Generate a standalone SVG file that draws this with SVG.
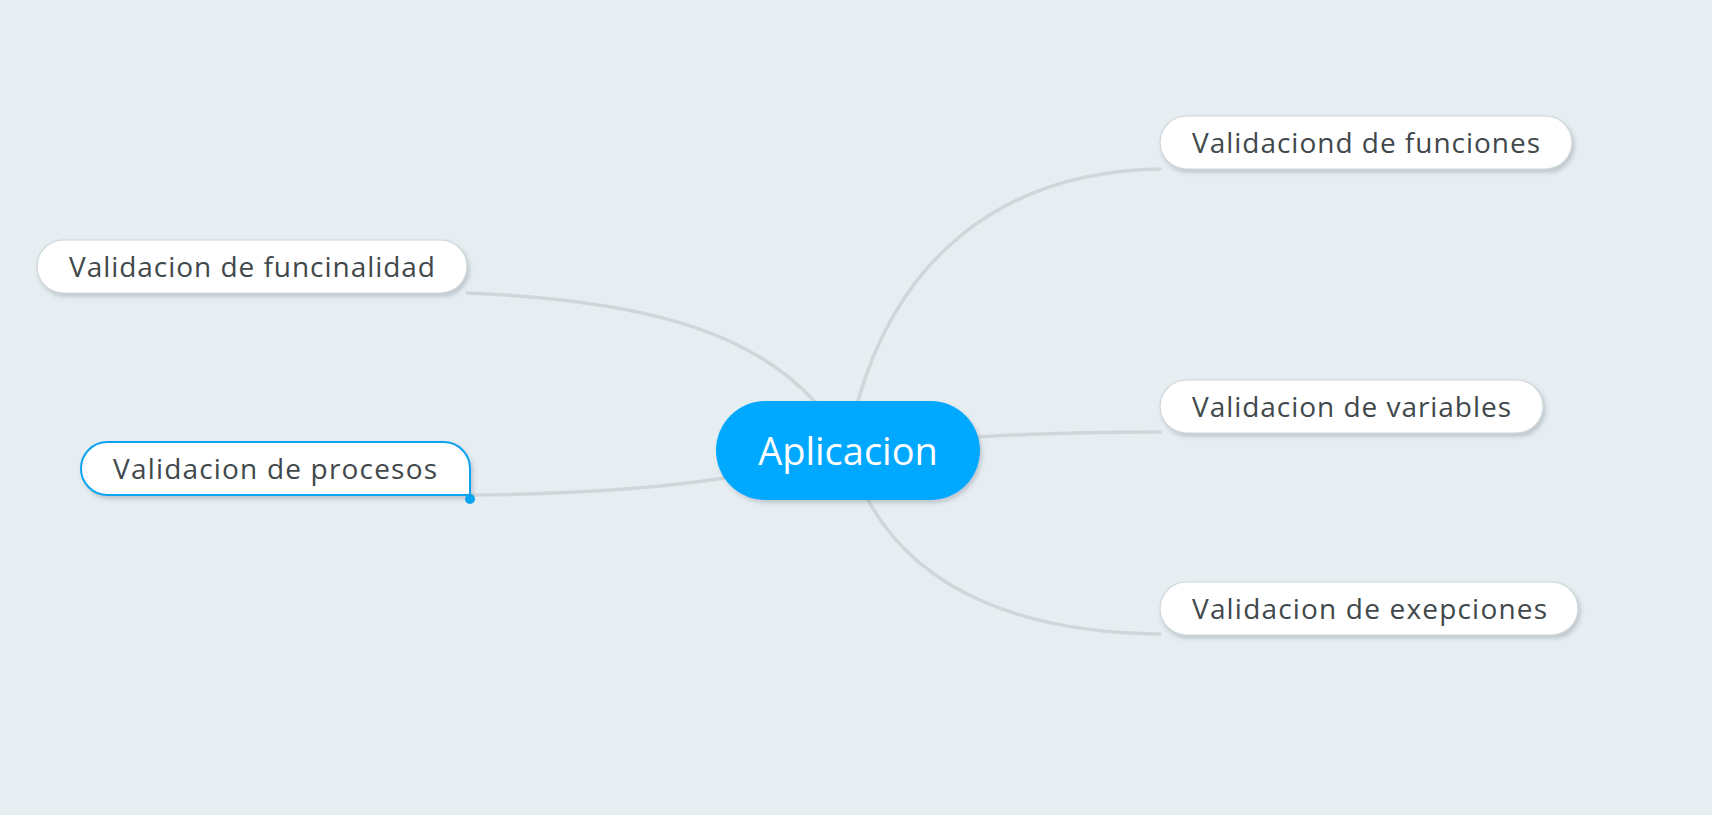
<svg xmlns="http://www.w3.org/2000/svg" width="1712" height="815" viewBox="0 0 1712 815">
<defs>
<filter id="sh" x="-10%" y="-30%" width="120%" height="170%">
<feDropShadow dx="2" dy="3" stdDeviation="2" flood-color="#5a6a72" flood-opacity="0.3"/>
</filter>
<style>
.bg{fill:#e6eef2}
.link{fill:none;stroke:#d0d7da;stroke-width:3.5;stroke-linecap:round}
.box{fill:#ffffff;stroke:#cfd6d9;stroke-width:1.2}
.sel{fill:#ffffff;stroke:#0aa3f2;stroke-width:2}
.lbl{font-family:"Open Sans","Liberation Sans",sans-serif;font-size:28px;fill:#41484b}
.root{fill:#00a8ff}
.rootlbl{font-family:"Open Sans","Liberation Sans",sans-serif;font-size:38px;fill:#ffffff;text-anchor:middle}
</style>
</defs>
<rect class="bg" x="0" y="0" width="1712" height="815"/>
<g id="connectors">
<path class="link" d="M467 293 C640 300 750 330 815 402"/>
<path class="link" d="M470 495 C580 494 660 488 725 478"/>
<path class="link" d="M858 401 C895 270 990 172 1160 169"/>
<path class="link" d="M978 437 C1040 433 1100 432 1160 432"/>
<path class="link" d="M868 500 C920 595 1030 633 1160 634"/>
</g>
<g id="root">
<rect class="root" x="716" y="401" width="264" height="99" rx="49.5" filter="url(#sh)"/>
<text class="rootlbl" x="848" y="465">Aplicacion</text>
</g>
<g id="n-funcinalidad">
<rect class="box" x="37" y="240" width="430" height="53" rx="26.5" filter="url(#sh)"/>
<text class="lbl" x="69" y="277" textLength="366" lengthAdjust="spacing">Validacion de funcinalidad</text>
</g>
<g id="n-procesos">
<path class="sel" d="M107.5 442 H443.5 A26.5 26.5 0 0 1 470 468.5 V495 H107.5 A26.5 26.5 0 0 1 107.5 442 Z" filter="url(#sh)"/>
<circle cx="470" cy="499" r="5" fill="#0aa3f2"/>
<text class="lbl" x="113" y="479" textLength="324" lengthAdjust="spacing">Validacion de procesos</text>
</g>
<g id="n-funciones">
<rect class="box" x="1160" y="116" width="412" height="53" rx="26.5" filter="url(#sh)"/>
<text class="lbl" x="1192" y="153" textLength="348" lengthAdjust="spacing">Validaciond de funciones</text>
</g>
<g id="n-variables">
<rect class="box" x="1160" y="380" width="383" height="53" rx="26.5" filter="url(#sh)"/>
<text class="lbl" x="1192" y="417" textLength="319" lengthAdjust="spacing">Validacion de variables</text>
</g>
<g id="n-exepciones">
<rect class="box" x="1160" y="582" width="418" height="53" rx="26.5" filter="url(#sh)"/>
<text class="lbl" x="1192" y="619" textLength="355" lengthAdjust="spacing">Validacion de exepciones</text>
</g>
</svg>
